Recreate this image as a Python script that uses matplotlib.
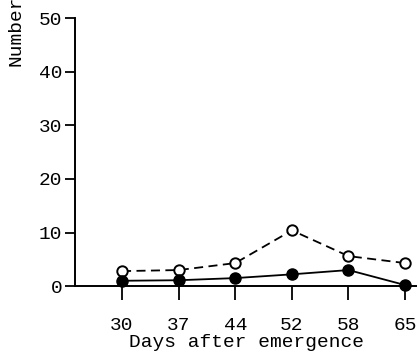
import matplotlib
matplotlib.use("Agg")
import matplotlib.pyplot as plt

# data
days = ["30", "37", "44", "52", "58", "65"]
open_vals = [2.8, 3.0, 4.3, 10.4, 5.6, 4.3]
filled_vals = [1.0, 1.1, 1.5, 2.2, 3.0, 0.2]
y_ticks = [0, 10, 20, 30, 40, 50]

plt.rcParams["font.family"] = ["Liberation Mono", "DejaVu Sans Mono"]

fig = plt.figure(figsize=(4.17, 3.55), dpi=100)
ax = fig.add_axes([0.18, 0.194, 0.82, 0.755])

x = list(range(len(days)))
ax.plot(x, open_vals, color="black", lw=1.3, ls=(0, (5, 3)), marker="o",
        ms=7.5, mfc="white", mec="black", mew=1.4, zorder=3, clip_on=False)
ax.plot(x, filled_vals, color="black", lw=1.3, marker="o", ms=8,
        mfc="black", mec="black", zorder=4, clip_on=False)

ax.set_xlim(-0.83, 5.21)
ax.set_ylim(0, 50)
ax.set_xticks(x)
ax.set_xticklabels(days)
ax.set_yticks(y_ticks)

for side in ("top", "right"):
    ax.spines[side].set_visible(False)
ax.spines["left"].set_linewidth(1.4)
ax.spines["bottom"].set_linewidth(1.4)

ax.tick_params(axis="y", direction="out", length=7, width=1.3, labelsize=14, pad=2)
ax.tick_params(axis="x", direction="out", length=10, width=1.3, labelsize=14, pad=12)

ax.set_xlabel("Days after emergence", fontsize=14, labelpad=0)
# the reference crops the y label at the top edge, only "Number" shows
fig.text(0.038, 0.815, "Number", rotation=90, ha="center", va="bottom", fontsize=14)

fig.savefig("out.png", dpi=100)
